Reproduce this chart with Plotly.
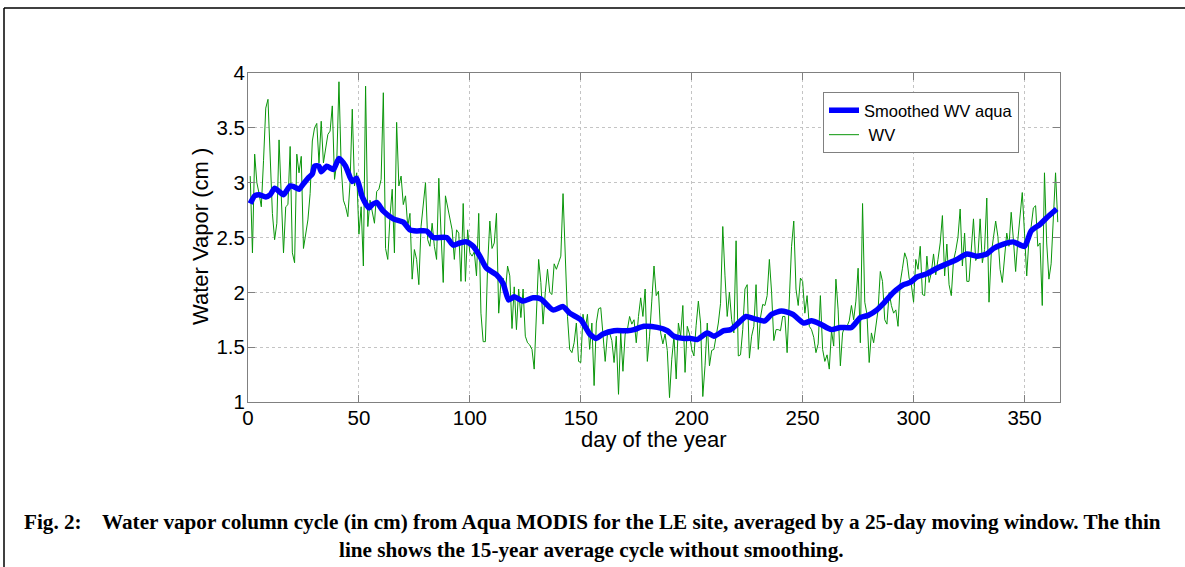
import plotly.graph_objects as go

# ---------------- data ----------------
days = list(range(1, 366))

wv = [
    3.06, 2.36, 3.26, 3.00, 2.90, 2.78, 3.20, 3.68, 3.76, 3.20,
    2.72, 2.48, 2.63, 3.39, 2.90, 2.36, 2.78, 2.80, 3.33, 2.36,
    2.27, 3.26, 3.09, 3.24, 2.40, 2.55, 2.66, 2.90, 3.38, 3.50,
    3.54, 3.18, 3.56, 3.18, 3.30, 3.44, 3.47, 3.70, 3.03, 3.18,
    3.92, 3.15, 2.84, 2.78, 2.69, 3.00, 3.67, 2.97, 3.09, 2.53,
    2.78, 2.24, 3.88, 2.60, 2.84, 2.72, 2.63, 2.92, 2.94, 3.03,
    3.82, 2.40, 2.30, 2.69, 2.94, 2.36, 3.55, 2.97, 3.06, 2.80,
    2.88, 2.60, 2.72, 2.12, 2.39, 2.30, 2.07, 2.60, 2.84, 3.00,
    2.48, 2.42, 2.63, 2.42, 2.30, 3.04, 2.54, 2.09, 2.88, 2.78,
    2.69, 2.57, 2.30, 2.57, 2.54, 2.10, 2.81, 2.10, 2.57, 2.36,
    2.33, 2.37, 2.15, 2.72, 1.81, 1.55, 1.55, 2.24, 2.65, 2.40,
    2.45, 2.72, 1.81, 2.09, 2.13, 2.00, 2.24, 2.15, 1.67, 2.05,
    1.66, 2.03,
    1.77, 2.03, 1.60, 1.54, 1.52, 1.48, 1.30, 1.78,
    2.30, 2.09, 1.71, 2.00, 2.21, 2.00, 1.98, 2.26, 2.21, 2.27,
    2.33, 2.90, 2.30, 1.78, 1.48, 1.45, 1.54, 1.72, 1.37, 1.36,
    1.80, 1.66, 1.80, 1.48, 1.72, 1.15, 1.72, 1.85, 1.86, 1.60,
    1.37, 1.62, 1.63, 1.56, 1.36, 1.60, 1.07, 1.63, 1.28, 1.62,
    1.66, 1.78, 1.71, 1.75, 1.54, 1.78, 1.95, 1.78, 2.03, 1.37,
    1.60, 1.92, 2.24, 1.97, 2.01, 1.63, 1.53, 1.62, 1.47, 1.04,
    1.39, 1.60, 1.21, 1.72, 1.60, 1.88, 1.27, 1.69, 1.62, 1.48,
    1.42, 1.70, 1.92, 1.72, 1.05, 1.33, 1.72, 1.33, 1.47, 1.48,
    1.60, 1.72, 1.90, 2.60, 2.15, 1.78, 2.00, 1.75, 1.63, 2.47,
    1.42, 1.43, 1.66, 2.03, 2.07, 1.40, 1.60, 1.69, 2.07, 1.48,
    1.77, 1.89, 1.88, 1.97, 2.30, 2.00, 1.56, 1.66, 1.66, 1.65,
    1.78, 1.78, 1.45, 2.03, 2.42, 2.65, 2.03, 1.88, 2.13, 2.10,
    1.81, 1.97, 1.69, 1.66, 1.59, 1.45, 1.53, 1.97, 1.48, 1.37,
    1.43, 1.30, 1.65, 1.51, 2.12, 1.84, 1.33, 1.63, 1.69, 1.69,
    1.74, 1.88, 1.75, 1.92, 2.22, 1.54, 2.81, 1.91, 1.80, 1.36,
    1.63, 1.54, 1.72, 1.84, 2.19, 2.10, 1.75, 1.71, 2.00, 1.88,
    1.81, 1.84, 1.69, 2.09, 2.22, 2.36, 2.30, 2.13, 2.07, 1.91,
    2.30, 2.21, 2.42, 1.98, 1.97, 2.33, 2.09, 2.18, 2.35, 2.16,
    2.30, 2.45, 2.70, 2.15, 2.44, 2.07, 1.97, 2.29, 2.38, 2.50,
    2.76, 2.24, 2.54, 2.10, 2.10, 2.42, 2.67, 2.29, 2.33, 2.67,
    2.27, 2.39, 2.86, 1.91, 2.35, 2.50, 2.65, 2.51, 2.21, 2.09,
    2.33, 2.54, 2.42, 2.73, 2.48, 2.19, 2.48, 2.73, 2.91, 2.54,
    2.15, 2.48, 2.60, 2.77, 2.79, 2.42, 2.45, 1.88, 3.09, 2.45,
    2.12, 2.26, 2.70, 3.09, 2.64,
]

smooth_days = [
    1, 3, 5, 8, 10, 12, 14, 16, 19, 21, 23, 25, 27, 29, 30, 32, 33, 35.5,
    38.5, 41, 44, 47, 49, 51.5, 54.5, 56, 58, 61, 65.5, 70, 73, 76, 80.5,
    83.5, 89.5, 92.5, 95.5, 98.5, 101.5, 104.5, 107.5, 112, 115, 117.5, 120,
    124, 128.5, 132, 137.5, 142, 145, 150, 154, 157, 160, 165, 171, 174,
    178.5, 184.5, 189, 192, 196, 199.5, 202.5, 207, 210, 214.5, 217.5, 220.5,
    224.5, 228, 233, 236, 240.5, 245.5, 250.5, 254, 258, 263, 267, 272, 276,
    279.5, 283.5, 286.5, 291, 295.5, 298.5, 301.5, 306, 310.5, 315, 319.5,
    324, 328.5, 333, 336, 340.5, 345, 350, 353, 357, 360, 364.5,
]
smooth_wv = [
    2.81, 2.88, 2.89, 2.87, 2.89, 2.95, 2.92, 2.89, 2.97, 2.96, 2.94, 2.99,
    3.04, 3.08, 3.15, 3.15, 3.10, 3.15, 3.12, 3.22, 3.15, 3.01, 3.04, 2.87,
    2.77, 2.80, 2.82, 2.74, 2.67, 2.64, 2.57, 2.56, 2.56, 2.50, 2.50, 2.43,
    2.45, 2.46, 2.42, 2.33, 2.22, 2.16, 2.08, 1.93, 1.96, 1.92, 1.95, 1.94,
    1.84, 1.87, 1.81, 1.75, 1.62, 1.58, 1.62, 1.65, 1.65, 1.66, 1.69, 1.68,
    1.65, 1.60, 1.58, 1.58, 1.57, 1.63, 1.60, 1.65, 1.66, 1.71, 1.78, 1.76,
    1.74, 1.80, 1.83, 1.80, 1.72, 1.74, 1.71, 1.66, 1.68, 1.68, 1.77, 1.79,
    1.84, 1.90, 2.00, 2.07, 2.09, 2.14, 2.17, 2.22, 2.26, 2.30, 2.35, 2.33,
    2.35, 2.40, 2.44, 2.46, 2.42, 2.56, 2.62, 2.68, 2.76,
]

x_ticks = [0, 50, 100, 150, 200, 250, 300, 350]
y_ticks = [1, 1.5, 2, 2.5, 3, 3.5, 4]

# ---------------- geometry helpers ----------------
W, H = 1185, 567
L, R, T, B = 248, 1060, 73, 402          # plot area in pixels


def px(x):
    return (x - L) / (R - L)


def py(y):
    return (B - y) / (B - T)


AX = "#808080"
SANS = "Liberation Sans, Arial, Helvetica, sans-serif"
SERIF = "Liberation Serif, Times New Roman, serif"

fig = go.Figure()
fig.add_trace(go.Scatter(
    x=days, y=wv, mode="lines", name="\u00a0WV",
    line=dict(color="#0a960a", width=1), legendrank=2,
))
fig.add_trace(go.Scatter(
    x=smooth_days, y=smooth_wv, mode="lines", name="Smoothed WV aqua",
    line=dict(color="#0000ff", width=5.5, shape="spline", smoothing=0.6),
    legendrank=1,
))

axis_common = dict(
    showline=True, linecolor=AX, linewidth=1, mirror="ticks",
    ticks="inside", ticklen=7, tickcolor=AX, tickwidth=1,
    showgrid=True, gridcolor="#c4c4c4", griddash="dot", gridwidth=1,
    zeroline=False, tickfont=dict(family=SANS, size=20.5, color="black"),
)

fig.update_layout(
    width=W, height=H,
    margin=dict(l=L, r=W - R, t=T, b=H - B),
    paper_bgcolor="white", plot_bgcolor="white",
    xaxis=dict(range=[0, 366], tickvals=x_ticks, ticklabelstandoff=-3, **axis_common),
    yaxis=dict(range=[1, 4], tickvals=y_ticks, ticklabelstandoff=-2, **axis_common),
    legend=dict(
        x=px(823), y=py(92), xanchor="left", yanchor="top",
        bordercolor=AX, borderwidth=1, bgcolor="white",
        font=dict(family=SANS, size=16.5, color="black"),
        itemwidth=30, tracegroupgap=0,
    ),
    showlegend=True,
)

annotations = [
    dict(text="day of the year", x=px(654), y=py(439.5), xanchor="center", yanchor="middle",
         font=dict(family=SANS, size=22, color="black")),
    dict(text="Water Vapor (cm )", x=px(200), y=py(237), xanchor="center", yanchor="middle",
         textangle=-90, font=dict(family=SANS, size=22, color="black")),
    dict(text="<b>Fig. 2:</b>", x=px(22), y=py(522), xanchor="left", yanchor="middle",
         font=dict(family=SERIF, size=21.2, color="black")),
    dict(text="<b>Water vapor column cycle (in cm) from Aqua MODIS for the LE site, "
              "averaged by a 25-day moving window. The thin</b>",
         x=px(100), y=py(522), xanchor="left", yanchor="middle",
         font=dict(family=SERIF, size=21.2, color="black")),
    dict(text="<b>line shows the 15-year average cycle without smoothing.</b>",
         x=px(591), y=py(550), xanchor="center", yanchor="middle",
         font=dict(family=SERIF, size=21.2, color="black")),
]
for a in annotations:
    a.update(xref="paper", yref="paper", showarrow=False)
fig.update_layout(annotations=annotations)

# outer frame of the figure (left and top edges)
fig.add_shape(type="line", xref="paper", yref="paper",
              x0=px(4), x1=px(4), y0=py(8), y1=py(H + 2),
              line=dict(color="black", width=1.5))
fig.add_shape(type="line", xref="paper", yref="paper",
              x0=px(4), x1=px(W + 2), y0=py(8), y1=py(8),
              line=dict(color="black", width=1.5))

fig.write_html("out.html")
